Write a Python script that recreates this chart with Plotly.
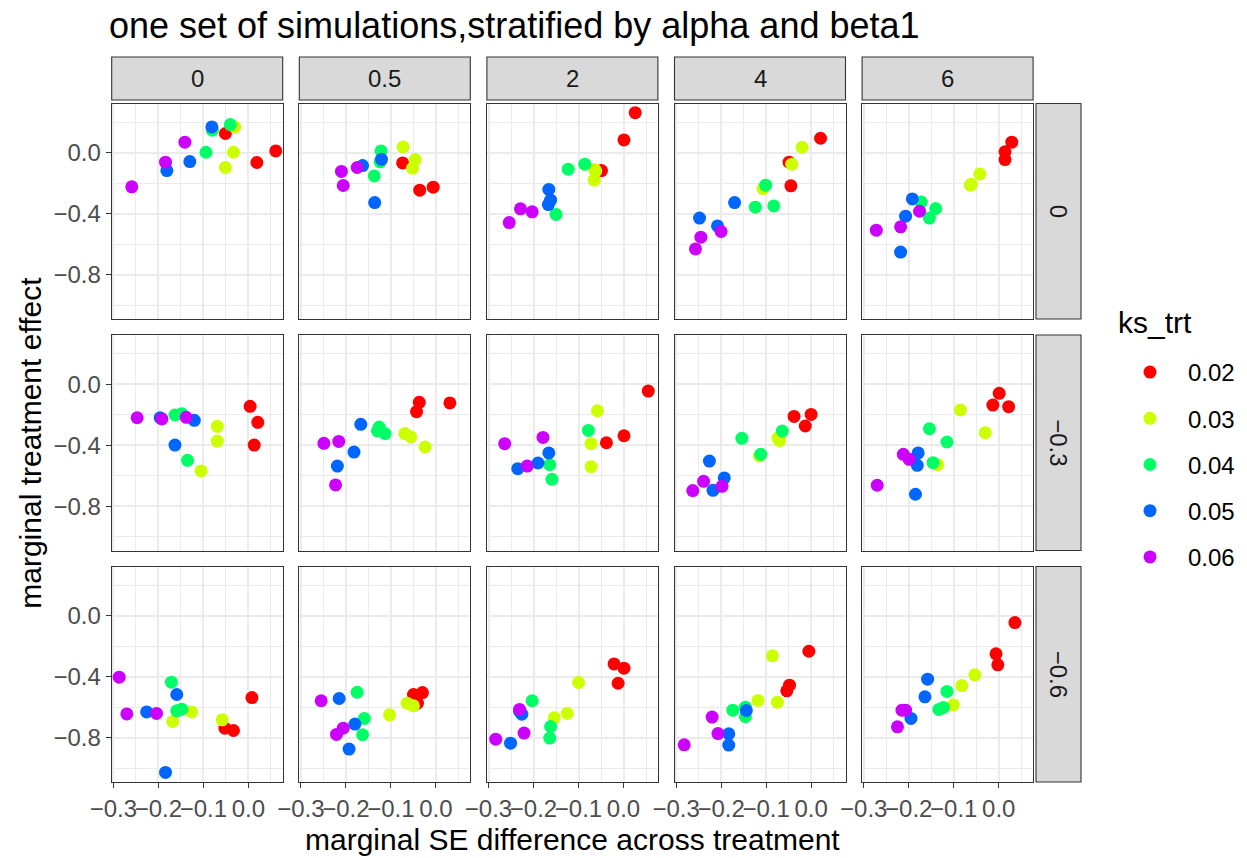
import plotly.graph_objects as go

# ---------------- data ----------------
alpha_levels = ["0", "0.5", "2", "4", "6"]
beta1_levels = ["0", "-0.3", "-0.6"]
beta1_labels = ["0", "−0.3", "−0.6"]
ks_levels = ["0.02", "0.03", "0.04", "0.05", "0.06"]
ks_colors = ["#FF0000", "#CCFF00", "#00FF66", "#0066FF", "#CC00FF"]

x_ticks = [-0.3, -0.2, -0.1, 0.0]
x_tick_labels = ["−0.3", "−0.2", "−0.1", "0.0"]
y_ticks = [0.0, -0.4, -0.8]
y_tick_labels = ["0.0", "−0.4", "−0.8"]

# ks_trt of each point inside a panel (same order in every panel)
ks_of_point = ["0.02", "0.02", "0.02", "0.03", "0.03", "0.03", "0.04", "0.04", "0.04",
               "0.05", "0.05", "0.05", "0.06", "0.06", "0.06"]

# beta1 = 0
se_b0_a0 = [-0.051, 0.019, 0.061, -0.030, -0.033, -0.051, -0.080, -0.094, -0.040, -0.181, -0.130, -0.081, -0.259, -0.184, -0.141]
te_b0_a0 = [0.127, -0.063, 0.013, 0.170, 0.004, -0.096, 0.149, 0.004, 0.186, -0.116, -0.057, 0.170, -0.223, -0.061, 0.070]
se_b0_a05 = [-0.074, -0.036, -0.006, -0.073, -0.046, -0.052, -0.122, -0.124, -0.137, -0.163, -0.121, -0.136, -0.210, -0.206, -0.175]
te_b0_a05 = [-0.066, -0.245, -0.225, 0.039, -0.044, -0.101, 0.013, -0.059, -0.151, -0.083, -0.042, -0.326, -0.122, -0.214, -0.096]
se_b0_a2 = [-0.049, 0.001, 0.026, -0.064, -0.065, -0.062, -0.150, -0.123, -0.086, -0.166, -0.162, -0.167, -0.254, -0.229, -0.203]
te_b0_a2 = [-0.116, 0.085, 0.264, -0.109, -0.179, -0.120, -0.404, -0.107, -0.074, -0.240, -0.310, -0.339, -0.457, -0.367, -0.387]
se_b0_a4 = [-0.049, -0.045, 0.021, -0.107, -0.043, -0.020, -0.124, -0.083, -0.101, -0.248, -0.208, -0.170, -0.257, -0.245, -0.200]
te_b0_a4 = [-0.061, -0.216, 0.096, -0.234, -0.074, 0.037, -0.356, -0.348, -0.212, -0.428, -0.479, -0.326, -0.630, -0.553, -0.516]
se_b0_a6 = [0.014, 0.014, 0.029, -0.063, -0.042, -0.061, -0.172, -0.154, -0.140, -0.218, -0.207, -0.192, -0.272, -0.218, -0.176]
te_b0_a6 = [-0.044, 0.007, 0.070, -0.212, -0.138, -0.206, -0.323, -0.428, -0.365, -0.651, -0.415, -0.302, -0.507, -0.485, -0.383]

# beta1 = -0.3
se_b3_a0 = [0.004, 0.021, 0.013, -0.069, -0.069, -0.105, -0.163, -0.148, -0.135, -0.196, -0.120, -0.163, -0.247, -0.192, -0.138]
te_b3_a0 = [-0.144, -0.249, -0.398, -0.275, -0.372, -0.568, -0.201, -0.192, -0.498, -0.219, -0.236, -0.398, -0.219, -0.227, -0.216]
se_b3_a05 = [-0.043, -0.037, 0.031, -0.069, -0.056, -0.024, -0.126, -0.130, -0.113, -0.219, -0.182, -0.167, -0.249, -0.216, -0.223]
te_b3_a05 = [-0.179, -0.118, -0.122, -0.323, -0.345, -0.411, -0.280, -0.306, -0.323, -0.536, -0.444, -0.262, -0.387, -0.374, -0.660]
se_b3_a2 = [-0.038, 0.001, 0.055, -0.058, -0.072, -0.072, -0.164, -0.159, -0.078, -0.235, -0.190, -0.166, -0.264, -0.214, -0.179]
te_b3_a2 = [-0.383, -0.337, -0.044, -0.173, -0.389, -0.540, -0.527, -0.623, -0.302, -0.553, -0.516, -0.450, -0.389, -0.536, -0.348]
se_b3_a4 = [-0.038, -0.013, 0.000, -0.115, -0.074, -0.070, -0.154, -0.112, -0.064, -0.218, -0.193, -0.226, -0.263, -0.239, -0.198]
te_b3_a4 = [-0.210, -0.273, -0.197, -0.470, -0.352, -0.369, -0.354, -0.459, -0.306, -0.695, -0.614, -0.503, -0.697, -0.636, -0.669]
se_b3_a6 = [-0.013, 0.001, 0.022, -0.136, -0.085, -0.030, -0.154, -0.115, -0.146, -0.179, -0.181, -0.185, -0.270, -0.212, -0.199]
te_b3_a6 = [-0.136, -0.059, -0.146, -0.527, -0.168, -0.317, -0.291, -0.378, -0.514, -0.450, -0.531, -0.721, -0.662, -0.459, -0.492]

# beta1 = -0.6
se_b6_a0 = [-0.052, -0.033, 0.008, -0.168, -0.126, -0.058, -0.171, -0.159, -0.148, -0.226, -0.159, -0.184, -0.287, -0.270, -0.204]
te_b6_a0 = [-0.737, -0.752, -0.536, -0.693, -0.630, -0.682, -0.435, -0.623, -0.612, -0.630, -0.516, -1.027, -0.402, -0.643, -0.640]
se_b6_a05 = [-0.050, -0.041, -0.030, -0.103, -0.064, -0.050, -0.175, -0.159, -0.163, -0.215, -0.180, -0.193, -0.255, -0.221, -0.206]
te_b6_a05 = [-0.516, -0.573, -0.503, -0.649, -0.573, -0.590, -0.501, -0.673, -0.780, -0.542, -0.710, -0.874, -0.557, -0.778, -0.737]
se_b6_a2 = [-0.021, 0.001, -0.012, -0.154, -0.125, -0.100, -0.203, -0.162, -0.164, -0.251, -0.231, -0.226, -0.284, -0.231, -0.221]
te_b6_a2 = [-0.315, -0.343, -0.442, -0.669, -0.640, -0.437, -0.557, -0.726, -0.802, -0.835, -0.625, -0.645, -0.809, -0.614, -0.769]
se_b6_a4 = [-0.054, -0.048, -0.005, -0.118, -0.075, -0.086, -0.174, -0.146, -0.146, -0.183, -0.183, -0.144, -0.282, -0.220, -0.207]
te_b6_a4 = [-0.492, -0.455, -0.232, -0.555, -0.566, -0.262, -0.619, -0.599, -0.662, -0.774, -0.848, -0.621, -0.846, -0.664, -0.772]
se_b6_a6 = [-0.006, -0.002, 0.036, -0.101, -0.082, -0.053, -0.133, -0.123, -0.115, -0.195, -0.164, -0.158, -0.225, -0.215, -0.207]
te_b6_a6 = [-0.249, -0.321, -0.044, -0.584, -0.457, -0.387, -0.614, -0.601, -0.496, -0.673, -0.531, -0.415, -0.728, -0.619, -0.619]

panels = [
    [(se_b0_a0, te_b0_a0), (se_b0_a05, te_b0_a05), (se_b0_a2, te_b0_a2), (se_b0_a4, te_b0_a4), (se_b0_a6, te_b0_a6)],
    [(se_b3_a0, te_b3_a0), (se_b3_a05, te_b3_a05), (se_b3_a2, te_b3_a2), (se_b3_a4, te_b3_a4), (se_b3_a6, te_b3_a6)],
    [(se_b6_a0, te_b6_a0), (se_b6_a05, te_b6_a05), (se_b6_a2, te_b6_a2), (se_b6_a4, te_b6_a4), (se_b6_a6, te_b6_a6)],
]

# ---------------- layout geometry (pixels) ----------------
W, H = 1247, 858
COL_L0, COL_STEP, COL_W = 111.7, 187.6, 171.0
ROW_T0, ROW_STEP, ROW_H = 103.5, 231.5, 215.5
STRIP_TOP, STRIP_BOT = 57.0, 100.0
RSTRIP_L, RSTRIP_R = 1036.0, 1081.0
X_RANGE = [-0.3036, 0.0764]
Y_RANGE = [-1.09, 0.324]

FONT = "Liberation Sans, Arial, Helvetica, sans-serif"
BORDER = "#333333"
GRID = "#EBEBEB"
TICK_SIZE = 24
AXIS_TITLE_SIZE = 30
TITLE_SIZE = 36


def fx(p):
    return p / W


def fy(p):
    return 1 - p / H


fig = go.Figure()
layout = dict(
    template="none",
    width=W, height=H,
    margin=dict(l=0, r=0, t=0, b=0, autoexpand=False),
    paper_bgcolor="white", plot_bgcolor="white",
    font=dict(family=FONT, color="#000000"),
    showlegend=True,
)
shapes = []
annotations = []

for r in range(3):
    for c in range(5):
        i = r * 5 + c
        sfx = "" if i == 0 else str(i + 1)
        left = COL_L0 + COL_STEP * c
        top = ROW_T0 + ROW_STEP * r
        bottom_row = r == 2
        left_col = c == 0
        layout["xaxis" + sfx] = dict(
            domain=[fx(left), fx(left + COL_W)], range=X_RANGE, anchor="y" + sfx,
            automargin=False, tickangle=0,
            showline=True, mirror=True, linecolor=BORDER, linewidth=1.1,
            showgrid=True, gridcolor=GRID, gridwidth=1.5, zeroline=False,
            tickvals=x_ticks, ticktext=x_tick_labels, showticklabels=bottom_row,
            ticks="outside" if bottom_row else "", ticklen=5, tickwidth=1.1, tickcolor=BORDER,
            tickfont=dict(size=TICK_SIZE, color="#4D4D4D", family=FONT),
            minor=dict(dtick=0.05, tick0=0, showgrid=True, gridcolor=GRID, gridwidth=0.8),
            fixedrange=True,
        )
        layout["yaxis" + sfx] = dict(
            domain=[fy(top + ROW_H), fy(top)], range=Y_RANGE, anchor="x" + sfx,
            automargin=False,
            showline=True, mirror=True, linecolor=BORDER, linewidth=1.1,
            showgrid=True, gridcolor=GRID, gridwidth=1.5, zeroline=False,
            tickvals=y_ticks, ticktext=y_tick_labels, showticklabels=left_col,
            ticks="outside" if left_col else "", ticklen=5, tickwidth=1.1, tickcolor=BORDER,
            tickfont=dict(size=TICK_SIZE, color="#4D4D4D", family=FONT),
            minor=dict(dtick=0.2, tick0=0, showgrid=True, gridcolor=GRID, gridwidth=0.8),
            fixedrange=True,
        )
        xs, ys = panels[r][c]
        for k, lvl in enumerate(ks_levels):
            px = [x for x, g in zip(xs, ks_of_point) if g == lvl]
            py = [y for y, g in zip(ys, ks_of_point) if g == lvl]
            fig.add_trace(go.Scatter(
                x=px, y=py, mode="markers", name=lvl, legendgroup=lvl,
                showlegend=(i == 0),
                marker=dict(color=ks_colors[k], size=13, line=dict(width=0)),
                xaxis="x" + sfx, yaxis="y" + sfx, hoverinfo="skip",
            ))

# column strips
for c, lab in enumerate(alpha_levels):
    left = COL_L0 + COL_STEP * c
    shapes.append(dict(type="rect", xref="paper", yref="paper",
                       x0=fx(left), x1=fx(left + COL_W), y0=fy(STRIP_BOT), y1=fy(STRIP_TOP),
                       fillcolor="#D9D9D9", line=dict(color=BORDER, width=1.1), layer="below"))
    annotations.append(dict(text=lab, xref="paper", yref="paper",
                            x=fx(left + COL_W / 2), y=fy((STRIP_TOP + STRIP_BOT) / 2),
                            showarrow=False, xanchor="center", yanchor="middle",
                            font=dict(size=TICK_SIZE, color="#1A1A1A", family=FONT)))
# row strips
for r, lab in enumerate(beta1_labels):
    top = ROW_T0 + ROW_STEP * r
    shapes.append(dict(type="rect", xref="paper", yref="paper",
                       x0=fx(RSTRIP_L), x1=fx(RSTRIP_R), y0=fy(top + ROW_H), y1=fy(top),
                       fillcolor="#D9D9D9", line=dict(color=BORDER, width=1.1), layer="below"))
    annotations.append(dict(text=lab, xref="paper", yref="paper",
                            x=fx((RSTRIP_L + RSTRIP_R) / 2), y=fy(top + ROW_H / 2),
                            showarrow=False, xanchor="center", yanchor="middle", textangle=90,
                            font=dict(size=TICK_SIZE, color="#1A1A1A", family=FONT)))

# axis titles
annotations.append(dict(text="marginal SE difference across treatment", xref="paper", yref="paper",
                        x=fx(COL_L0 + (COL_STEP * 4 + COL_W) / 2), y=fy(839),
                        showarrow=False, xanchor="center", yanchor="middle",
                        font=dict(size=AXIS_TITLE_SIZE, color="#000000", family=FONT)))
annotations.append(dict(text="marginal treatment effect", xref="paper", yref="paper",
                        x=fx(31), y=fy(ROW_T0 + (ROW_STEP * 2 + ROW_H) / 2),
                        showarrow=False, xanchor="center", yanchor="middle", textangle=-90,
                        font=dict(size=AXIS_TITLE_SIZE, color="#000000", family=FONT)))
# legend title
annotations.append(dict(text="ks_trt", xref="paper", yref="paper",
                        x=fx(1116), y=fy(322), showarrow=False, xanchor="left", yanchor="middle",
                        font=dict(size=AXIS_TITLE_SIZE, color="#000000", family=FONT)))

layout["title"] = dict(text="one set of simulations,stratified by alpha and beta1",
                       x=fx(109), xanchor="left", xref="paper",
                       y=fy(25), yanchor="middle", yref="paper",
                       font=dict(size=TITLE_SIZE, color="#000000", family=FONT))
layout["legend"] = dict(
    x=fx(1112), y=fy(350), xanchor="left", yanchor="top",
    font=dict(size=TICK_SIZE, family=FONT, color="#000000"),
    tracegroupgap=12, itemwidth=66, bgcolor="rgba(0,0,0,0)",
)
layout["shapes"] = shapes
layout["annotations"] = annotations
fig.update_layout(**layout)

fig.write_html("out.html")
